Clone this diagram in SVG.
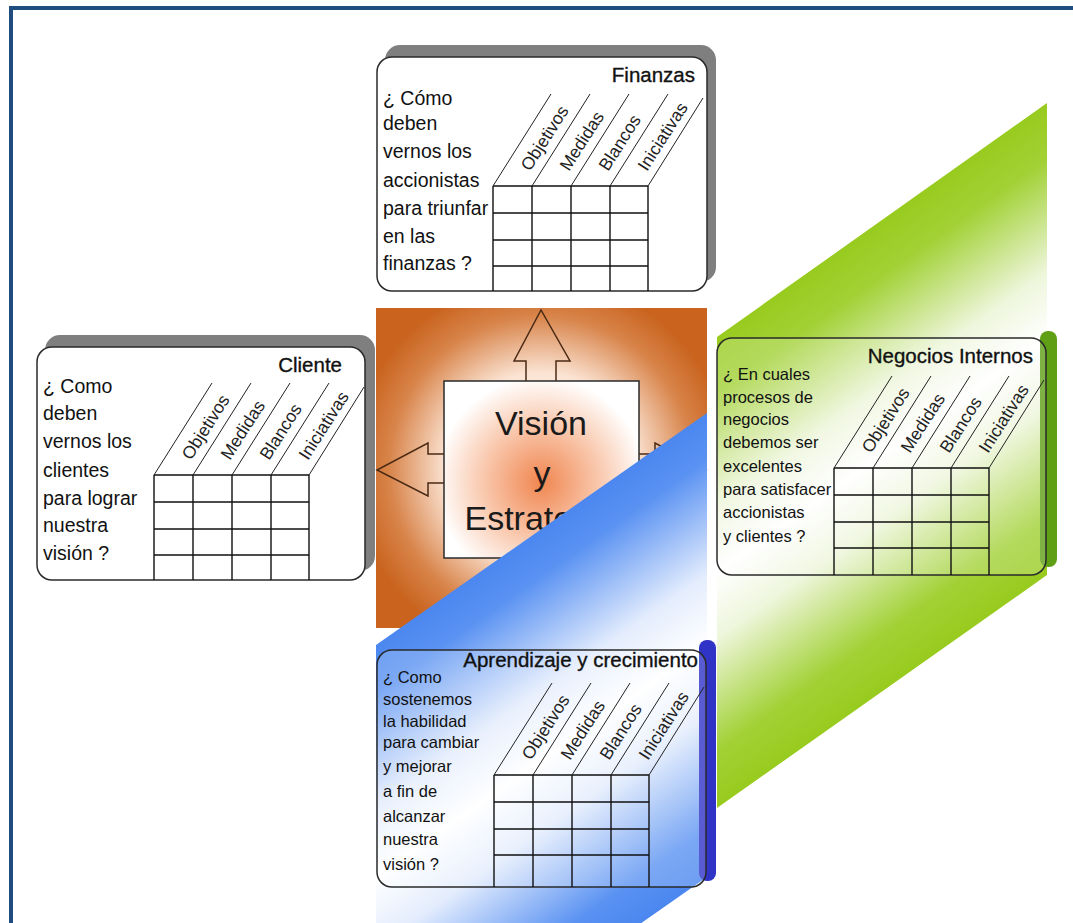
<svg xmlns="http://www.w3.org/2000/svg" xmlns:xlink="http://www.w3.org/1999/xlink" width="1073" height="923" viewBox="0 0 1073 923">
<style>
.body{font-family:"Liberation Sans",Arial,sans-serif;fill:#111}
.t{font-size:19.5px}
.s{font-size:16.5px}
.title{font-family:"Liberation Sans",Arial,sans-serif;font-size:20.5px;fill:#111;stroke:#111;stroke-width:0.35;text-anchor:end}
.lbl{font-family:"Liberation Sans",Arial,sans-serif;font-size:17.5px;fill:#222}
.box{stroke:#2a2a2a;stroke-width:1.5}
.gl{fill:none;stroke:#111;stroke-width:1.4}
.dl{fill:none;stroke:#222;stroke-width:1}
.arrow{fill:none;stroke:#4a2a14;stroke-width:1.5;stroke-linejoin:miter}
.vis{font-family:"Liberation Sans",Arial,sans-serif;font-size:34px;fill:#1a1a1a;text-anchor:middle}
</style>
<defs>
<radialGradient id="orangeG" gradientUnits="userSpaceOnUse" cx="541" cy="468" r="190">
<stop offset="0" stop-color="#ffffff"/>
<stop offset="0.5" stop-color="#fbe4d4"/>
<stop offset="0.8" stop-color="#d8844a"/>
<stop offset="1" stop-color="#c9631e"/>
</radialGradient>
<radialGradient id="innerG" gradientUnits="userSpaceOnUse" cx="541" cy="482" r="105">
<stop offset="0" stop-color="#f08650"/>
<stop offset="0.55" stop-color="#f9c8ad"/>
<stop offset="1" stop-color="#ffffff"/>
</radialGradient>
<linearGradient id="blueG" gradientUnits="userSpaceOnUse" x1="541" y1="529" x2="759" y2="840">
<stop offset="0" stop-color="#4b87f0"/>
<stop offset="0.1" stop-color="#5a92f2"/>
<stop offset="0.35" stop-color="#e4edfd"/>
<stop offset="0.5" stop-color="#ffffff"/>
<stop offset="0.65" stop-color="#e4edfd"/>
<stop offset="0.9" stop-color="#5a92f2"/>
<stop offset="1" stop-color="#4b87f0"/>
</linearGradient>
<linearGradient id="greenG" gradientUnits="userSpaceOnUse" x1="882" y1="220" x2="1104" y2="533">
<stop offset="0" stop-color="#98cb1e"/>
<stop offset="0.12" stop-color="#a2d136"/>
<stop offset="0.36" stop-color="#eef6dc"/>
<stop offset="0.5" stop-color="#ffffff"/>
<stop offset="0.64" stop-color="#eef6dc"/>
<stop offset="0.88" stop-color="#a2d136"/>
<stop offset="1" stop-color="#98cb1e"/>
</linearGradient>
<g id="grid">
<path class="gl" d="M0,0H155M0,27H155M0,54H155M0,80H155"/>
<path class="dl" d="M0,0l58,-92M39,0l58,-92M78,0l58,-92M117,0l58,-92M155,0l55,-88"/>
<text class="lbl" transform="translate(37,-14) rotate(-57.4)">Objetivos</text>
<text class="lbl" transform="translate(76,-14) rotate(-57.4)">Medidas</text>
<text class="lbl" transform="translate(115,-14) rotate(-57.4)">Blancos</text>
<text class="lbl" transform="translate(154,-14) rotate(-57.4)">Iniciativas</text>
</g>
</defs>

<rect width="1073" height="923" fill="#ffffff"/>
<rect x="9" y="6" width="1064" height="4" fill="#1f4d80"/>
<rect x="9" y="6" width="4" height="917" fill="#1f4d80"/>

<polygon id="green-band" points="717,337 1047,103 1047,575 717,808" fill="url(#greenG)"/>

<g id="vision">
<rect x="376" y="308" width="331" height="320" fill="url(#orangeG)"/>
<rect class="box" x="444" y="381" width="195" height="177" fill="url(#innerG)"/>
<text class="vis" x="541" y="435">Visión</text>
<text class="vis" x="542" y="485">y</text>
<text class="vis" x="541" y="530">Estrategia</text>
</g>

<g id="connectors">
<path class="arrow" d="M526,381V361H514L541,310L570,361H556V381"/>
<path class="arrow" d="M444,454H428V443L377,470L428,496V483H444"/>
<path class="arrow" d="M639,454H655V443L706,470L655,496V483H639"/>
</g>

<polygon id="blue-band" points="376,645 707,413 707,877 376,1109" fill="url(#blueG)"/>

<g id="finanzas">
<rect x="385" y="45" width="331" height="237" rx="15" fill="#7f7f7f"/>
<rect class="box" x="377" y="57" width="330" height="234" rx="15" fill="#ffffff"/>
<text class="title" x="695" y="82">Finanzas</text>
<text class="body t" x="383" y="105">¿ Cómo</text>
<text class="body t" x="383" y="130">deben</text>
<text class="body t" x="383" y="158">vernos los</text>
<text class="body t" x="383" y="187">accionistas</text>
<text class="body t" x="383" y="215">para triunfar</text>
<text class="body t" x="383" y="243">en las</text>
<text class="body t" x="383" y="270">finanzas ?</text>
<use href="#grid" xlink:href="#grid" x="493" y="186"/>
<path class="gl" d="M493,186V291M532,186V291M571,186V291M610,186V291M648,186V291"/>
</g>

<g id="cliente">
<rect x="45" y="335" width="330" height="236" rx="15" fill="#7f7f7f"/>
<rect class="box" x="37" y="347" width="328" height="233" rx="15" fill="#ffffff"/>
<text class="title" x="342" y="372">Cliente</text>
<text class="body t" x="43" y="393">¿ Como</text>
<text class="body t" x="43" y="420">deben</text>
<text class="body t" x="43" y="448">vernos los</text>
<text class="body t" x="43" y="477">clientes</text>
<text class="body t" x="43" y="505">para lograr</text>
<text class="body t" x="43" y="532">nuestra</text>
<text class="body t" x="43" y="560">visión ?</text>
<use href="#grid" xlink:href="#grid" x="154" y="475"/>
<path class="gl" d="M154,475V580M193,475V580M232,475V580M271,475V580M309,475V580"/>
</g>

<g id="negocios-internos">
<rect x="1040" y="331" width="17" height="236" rx="8" fill="#5f9f16"/>
<rect class="box" x="717" y="338" width="329" height="237" rx="15" fill="#ffffff" fill-opacity="0.2"/>
<text class="title" x="1033" y="363">Negocios Internos</text>
<text class="body s" x="723" y="380">¿ En cuales</text>
<text class="body s" x="723" y="403">procesos de</text>
<text class="body s" x="723" y="425">negocios</text>
<text class="body s" x="723" y="448">debemos ser</text>
<text class="body s" x="723" y="472">excelentes</text>
<text class="body s" x="723" y="495">para satisfacer</text>
<text class="body s" x="723" y="518">accionistas</text>
<text class="body s" x="723" y="542">y clientes ?</text>
<use href="#grid" xlink:href="#grid" x="834" y="468"/>
<path class="gl" d="M834,468V575M873,468V575M912,468V575M951,468V575M989,468V575"/>
</g>

<g id="aprendizaje">
<rect x="699" y="640" width="17" height="241" rx="8" fill="#2f33c6"/>
<rect class="box" x="377" y="650" width="329" height="237" rx="15" fill="#ffffff" fill-opacity="0.2"/>
<text class="title" x="698" y="667">Aprendizaje y crecimiento</text>
<text class="body s" x="383" y="683">¿ Como</text>
<text class="body s" x="383" y="705">sostenemos</text>
<text class="body s" x="383" y="727">la habilidad</text>
<text class="body s" x="383" y="748">para cambiar</text>
<text class="body s" x="383" y="772">y mejorar</text>
<text class="body s" x="383" y="797">a fin de</text>
<text class="body s" x="383" y="822">alcanzar</text>
<text class="body s" x="383" y="845">nuestra</text>
<text class="body s" x="383" y="870">visión ?</text>
<use href="#grid" xlink:href="#grid" x="494" y="775"/>
<path class="gl" d="M494,775V887M533,775V887M572,775V887M611,775V887M649,775V887"/>
</g>
</svg>
